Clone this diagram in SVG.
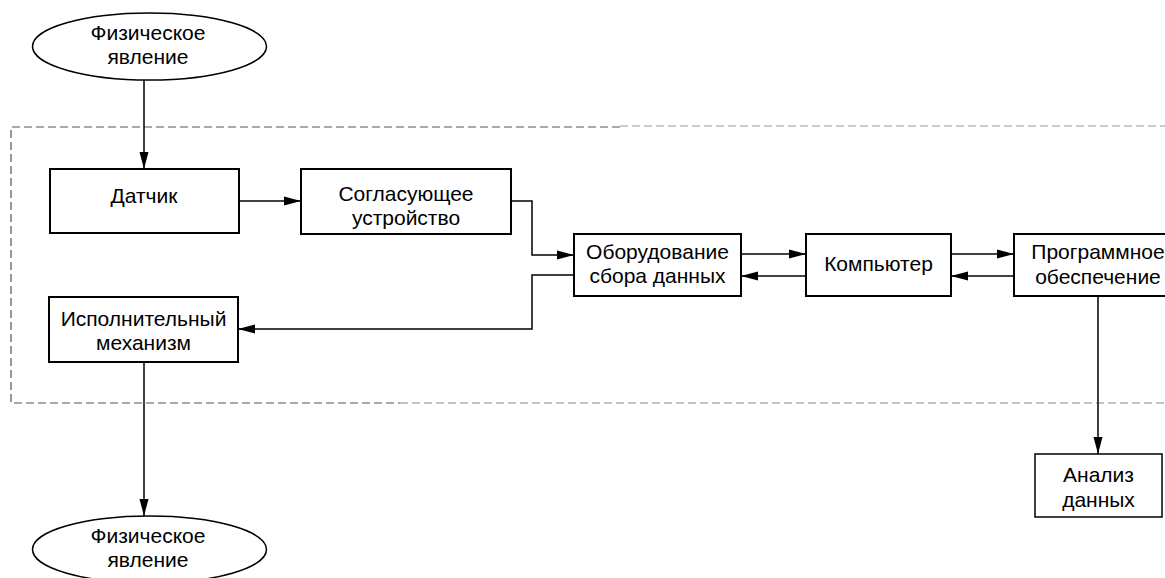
<svg xmlns="http://www.w3.org/2000/svg" width="1165" height="578" viewBox="0 0 1165 578">
<style>
.box{fill:#fff;stroke:#000;stroke-width:2}
.thin{fill:#fff;stroke:#000;stroke-width:1.5}
.t{font-family:"Liberation Sans",Arial,sans-serif;font-size:21px;fill:#000;text-anchor:middle}
.c{fill:none;stroke:#000;stroke-width:1.5}
.d{fill:none;stroke-width:1.2;stroke-dasharray:8,4}
</style>
<defs>
<marker id="ah" markerUnits="userSpaceOnUse" markerWidth="18" markerHeight="10" refX="17" refY="5" orient="auto">
<path d="M0,0.5 L17,5 L0,9.5 z" fill="#000"/>
</marker>
</defs>
<g id="boundary">
<path class="d" stroke="#555" d="M620,127 H11 V403 H400"/>
<path class="d" stroke="#999" d="M620,126 H1165"/>
<path class="d" stroke="#888" d="M400,403 H1165"/>
</g>
<g id="connectors">
<path class="c" d="M144,80 V169" marker-end="url(#ah)"/>
<path class="c" d="M239,201 H301" marker-end="url(#ah)"/>
<path class="c" d="M511,201 H532 V255 H574" marker-end="url(#ah)"/>
<path class="c" d="M741,254 H806" marker-end="url(#ah)"/>
<path class="c" d="M806,276 H741" marker-end="url(#ah)"/>
<path class="c" d="M951,254 H1014" marker-end="url(#ah)"/>
<path class="c" d="M1014,276 H951" marker-end="url(#ah)"/>
<path class="c" d="M574,275 H532 V329 H238" marker-end="url(#ah)"/>
<path class="c" d="M144,362 V516" marker-end="url(#ah)"/>
<path class="c" d="M1098,296 V454" marker-end="url(#ah)"/>
</g>
<g id="phenomenon-top">
<ellipse class="thin" cx="149.5" cy="46.5" rx="117" ry="33.5"/>
<text class="t" x="148" y="40">Физическое</text>
<text class="t" x="148" y="64">явление</text>
</g>
<g id="sensor">
<rect class="box" x="50" y="169" width="189" height="64"/>
<text class="t" x="144" y="203">Датчик</text>
</g>
<g id="conditioner">
<rect class="box" x="301" y="169" width="210" height="65"/>
<text class="t" x="406" y="201">Согласующее</text>
<text class="t" x="406" y="225">устройство</text>
</g>
<g id="daq">
<rect class="box" x="574" y="234" width="167" height="62"/>
<text class="t" x="657.5" y="259">Оборудование</text>
<text class="t" x="657.5" y="283">сбора данных</text>
</g>
<g id="computer">
<rect class="box" x="806" y="234" width="145" height="62"/>
<text class="t" x="878.5" y="271">Компьютер</text>
</g>
<g id="software">
<rect class="box" x="1014" y="234" width="168" height="62"/>
<text class="t" x="1098" y="259">Программное</text>
<text class="t" x="1098" y="284">обеспечение</text>
</g>
<g id="actuator">
<rect class="box" x="49" y="297" width="189" height="65"/>
<text class="t" x="143.5" y="326">Исполнительный</text>
<text class="t" x="143.5" y="350">механизм</text>
</g>
<g id="analysis">
<rect class="thin" x="1035" y="454" width="127" height="63"/>
<text class="t" x="1098.5" y="482">Анализ</text>
<text class="t" x="1098.5" y="507">данных</text>
</g>
<g id="phenomenon-bottom">
<ellipse class="thin" cx="149.5" cy="549.5" rx="117" ry="33.5"/>
<text class="t" x="148" y="543">Физическое</text>
<text class="t" x="148" y="567">явление</text>
</g>
</svg>
